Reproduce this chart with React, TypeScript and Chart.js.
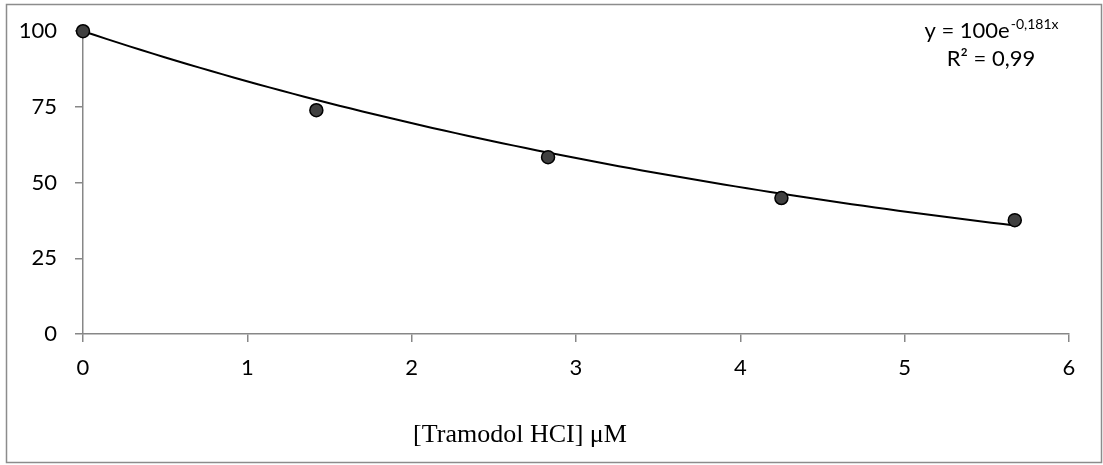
import React, { useEffect, useRef } from "react";
import { Chart, registerables } from "chart.js";

Chart.register(...registerables);

// ---- data ----
const concentrations = [0, 1.42, 2.83, 4.25, 5.67];
const responses = [100, 73.9, 58.4, 44.9, 37.6];
const xTickValues = [0, 1, 2, 3, 4, 5, 6];
const yTickValues = [0, 25, 50, 75, 100];
// exponential trendline stated on the chart: y = 100 e^(-0.181 x)
const trendA = 100;
const trendB = -0.181;
const trendSteps = 80;
const equationMain = "y = 100e";
const equationSup = "-0,181x";
const rSquaredText = "R² = 0,99";
const xAxisTitle = "[Tramodol HCI] μM";

const SANS = "Lato, 'Noto Sans', sans-serif";
const SERIF = "'Liberation Serif', 'DejaVu Serif', serif";
const AXIS_GREY = "#878787";

const trendPoints = (() => {
  const xMax = concentrations[concentrations.length - 1];
  const pts: { x: number; y: number }[] = [];
  for (let i = 0; i <= trendSteps; i++) {
    const x = (xMax * i) / trendSteps;
    pts.push({ x, y: trendA * Math.exp(trendB * x) });
  }
  return pts;
})();

const decorPlugin = {
  id: "decor",
  afterDraw(chart: any) {
    const ctx = chart.ctx as CanvasRenderingContext2D;
    ctx.save();
    // outer frame
    ctx.strokeStyle = "#8c8c8c";
    ctx.lineWidth = 1.5;
    ctx.strokeRect(6.5, 4.5, 1095, 458);

    // trendline label
    const mainFont = `22px ${SANS}`;
    const supFont = `14px ${SANS}`;
    ctx.fillStyle = "#000";
    ctx.textBaseline = "alphabetic";
    ctx.font = mainFont;
    const wMain = ctx.measureText(equationMain).width;
    ctx.font = supFont;
    const wSup = ctx.measureText(equationSup).width;
    const centerX = 991;
    const startX = centerX - (wMain + wSup) / 2;
    ctx.font = mainFont;
    ctx.textAlign = "left";
    ctx.fillText(equationMain, startX, 38);
    ctx.font = supFont;
    ctx.fillText(equationSup, startX + wMain + 1, 29);
    ctx.font = mainFont;
    ctx.textAlign = "center";
    ctx.fillText(rSquaredText, centerX, 66);

    // x-axis title
    ctx.font = `26px ${SERIF}`;
    ctx.textAlign = "center";
    ctx.textBaseline = "middle";
    ctx.fillText(xAxisTitle, 520, 435);
    ctx.restore();
  },
};

export default function App() {
  const ref = useRef<HTMLCanvasElement | null>(null);

  useEffect(() => {
    document.body.style.margin = "0";
    const canvas = ref.current;
    if (!canvas) return;
    const chart = new Chart(canvas, {
      type: "scatter",
      data: {
        datasets: [
          {
            type: "line",
            label: "trend",
            data: trendPoints,
            borderColor: "#000",
            borderWidth: 2,
            pointRadius: 0,
            fill: false,
            tension: 0,
            clip: false,
            order: 2,
          } as any,
          {
            label: "data",
            data: concentrations.map((x, i) => ({ x, y: responses[i] })),
            pointRadius: 6.5,
            pointBackgroundColor: "#404040",
            pointBorderColor: "#000",
            pointBorderWidth: 1.5,
            clip: false,
            order: 1,
          } as any,
        ],
      },
      options: {
        responsive: false,
        animation: false,
        layout: { padding: { left: 0, top: 31, right: 34, bottom: 0 } },
        plugins: {
          legend: { display: false },
          tooltip: { enabled: false },
        },
        scales: {
          x: {
            type: "linear",
            min: 0,
            max: 6,
            afterBuildTicks: (s: any) => {
              s.ticks = xTickValues.map((v) => ({ value: v }));
            },
            afterFit: (s: any) => {
              s.height = 131;
            },
            grid: {
              drawOnChartArea: false,
              drawTicks: true,
              tickLength: 8,
              color: AXIS_GREY,
              lineWidth: 1.5,
            },
            border: { display: true, color: AXIS_GREY, width: 1.5 },
            ticks: {
              color: "#000",
              font: { family: SANS, size: 22 },
              padding: 13,
              maxRotation: 0,
            },
          },
          y: {
            type: "linear",
            min: 0,
            max: 100,
            afterBuildTicks: (s: any) => {
              s.ticks = yTickValues.map((v) => ({ value: v }));
            },
            afterFit: (s: any) => {
              s.width = 83;
            },
            grid: {
              drawOnChartArea: false,
              drawTicks: true,
              tickLength: 8,
              color: AXIS_GREY,
              lineWidth: 1.5,
            },
            border: { display: true, color: AXIS_GREY, width: 1.5 },
            ticks: {
              color: "#000",
              font: { family: SANS, size: 22 },
              padding: 18,
            },
          },
        },
      },
      plugins: [decorPlugin],
    });
    return () => chart.destroy();
  }, []);

  return (
    <div style={{ width: 1103, height: 465, background: "#fff" }}>
      <canvas ref={ref} width={1103} height={465} style={{ display: "block" }} />
    </div>
  );
}
